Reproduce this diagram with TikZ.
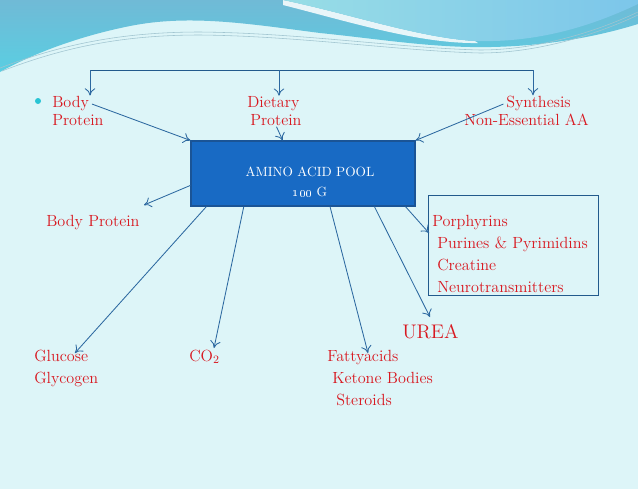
\documentclass[tikz,border=0pt]{standalone}
\usepackage{tikz}
\usetikzlibrary{arrows.meta,positioning,calc}
\definecolor{mRed}{RGB}{216,24,32}
\definecolor{mLine}{RGB}{44,104,160}
\definecolor{mTop}{RGB}{34,90,140}
\definecolor{mPool}{RGB}{24,106,196}
\definecolor{mPoolEdge}{RGB}{26,84,150}
\definecolor{mBg}{RGB}{221,245,248}
\definecolor{mWaveA}{RGB}{112,186,214}
\definecolor{mWaveB}{RGB}{90,206,226}
\definecolor{mWaveC}{RGB}{152,221,230}
\definecolor{mWaveD}{RGB}{124,198,234}
\definecolor{mThin}{RGB}{160,196,208}
\definecolor{mBullet}{RGB}{40,196,212}

\begin{document}
\begin{tikzpicture}[x=0.025cm, y=-0.025cm,
    lbl/.style={text=mRed, font=\fontsize{11.5}{14}\selectfont, inner sep=0pt, anchor=base west},
    arr/.style={mLine, line width=0.6pt, -{To[length=1.8mm, width=2.6mm]}},
    pool/.style={fill=mPool, draw=mPoolEdge, line width=0.8pt, minimum width=5.6cm, minimum height=1.625cm, inner sep=0pt}]

    % Slide background
    \fill[mBg] (0,0) rectangle (638,489);
    \useasboundingbox (0,0) rectangle (638,489);

    % Waves along the top
    \shade[top color=mWaveA, bottom color=mWaveB] (0,0) -- (638,0) -- (638,24)
      .. controls (580,42) and (520,48) .. (470,47)
      .. controls (420,46) and (370,38) .. (320,33)
      .. controls (250,24) and (190,14) .. (130,26)
      .. controls (70,38) and (25,58) .. (0,72) -- cycle;
    \fill[white, opacity=0.85] (283,0) .. controls (350,14) and (420,38) .. (475,41)
      -- (478,43) .. controls (420,44) and (350,22) .. (283,5) -- cycle;
    \shade[left color=mWaveC, right color=mWaveD] (283,0)
      .. controls (350,14) and (420,38) .. (475,41)
      .. controls (545,43) and (600,22) .. (638,4) -- (638,0) -- cycle;
    \draw[mThin, line width=0.4pt] (0,68) .. controls (60,45) and (120,32) .. (200,32)
      .. controls (300,33) and (400,48) .. (480,50) .. controls (540,50) and (600,30) .. (638,12);
    \draw[mThin, line width=0.4pt] (2,71) .. controls (62,48) and (120,35) .. (200,35)
      .. controls (300,36) and (400,51) .. (480,53) .. controls (540,53) and (600,33) .. (638,15);

    % Sources
    \fill[mBullet] (38,101) circle (3);
    \node[lbl] (body) at (52,107) {Body};
    \node[lbl] (bprot) at (52,125) {Protein};
    \node[lbl] (diet) at (247,107) {Dietary};
    \node[lbl] (dprot) at (250,125) {Protein};
    \node[lbl] (synth) at (506,107) {Synthesis};
    \node[lbl] (nonaa) at (464,125) {Non-Essential AA};

    % Amino acid pool
    \node[pool] (pool) at (303,173.5) {};
    \node[text=white, font=\fontsize{9.5}{14}\selectfont, align=center, inner sep=0pt] (pooltxt) at (310,182) {AMINO ACID POOL\\\oldstylenums{100} G};

    % Bracket over the sources
    \coordinate (brL) at (90,70);
    \coordinate (brM) at (279,70);
    \coordinate (brR) at (533,70);
    \draw[mTop, line width=0.7pt] (brL) -- (brR);
    \draw[arr] (brL) -- (brL |- body.north);
    \draw[arr] (brM) -- (brM |- diet.north);
    \draw[arr] (brR) -- (brR |- synth.north);

    % Into the pool
    \draw[arr, shorten <=2pt] (body.east) -- (pool.north west);
    \draw[arr, shorten <=1pt] (dprot.south) -- ($(pool.north west)!0.41!(pool.north east)$);
    \draw[arr, shorten <=2pt] (synth.west) -- (pool.north east);

    % Products
    \node[lbl] (bodyp) at (46,226) {Body Protein};
    \node[lbl] (porph) at (432,226) {Porphyrins};
    \node[lbl] (purin) at (437,248) {Purines \& Pyrimidins};
    \node[lbl] (creat) at (437,270) {Creatine};
    \node[lbl] (neuro) at (437,292) {Neurotransmitters};
    \node[draw=mTop, line width=0.6pt, minimum width=4.25cm, minimum height=2.5cm, inner sep=0pt] (deriv) at (513,245) {};
    \node[lbl, font=\fontsize{14}{16}\selectfont] (urea) at (402,338) {UREA};
    \node[lbl] (gluc) at (34,361) {Glucose};
    \node[lbl] (glyc) at (34,383) {Glycogen};
    \node[lbl] (co2) at (189,361) {CO$_2$};
    \node[lbl] (fatty) at (327,361) {Fattyacids};
    \node[lbl] (keto) at (332,383) {Ketone Bodies};
    \node[lbl] (stero) at (336,405) {Steroids};

    % Tips of the outgoing arrows
    \coordinate (tBody) at (144,205);
    \coordinate (tGluc) at (75,353);
    \coordinate (tCO) at (214,348);
    \coordinate (tFat) at (368,353);
    \coordinate (tUrea) at (430,317);
    \coordinate (tPor) at (429,233);

    % Out of the pool
    \draw[arr] ($(pool.north west)!0.68!(pool.south west)$) -- (tBody);
    \draw[arr] ($(pool.south west)!0.071!(pool.south east)$) -- (tGluc);
    \draw[arr] ($(pool.south west)!0.237!(pool.south east)$) -- (tCO);
    \draw[arr] ($(pool.south west)!0.62!(pool.south east)$) -- (tFat);
    \draw[arr] ($(pool.south west)!0.817!(pool.south east)$) -- (tUrea);
    \draw[arr] ($(pool.south west)!0.955!(pool.south east)$) -- (tPor);
\end{tikzpicture}
\end{document}
